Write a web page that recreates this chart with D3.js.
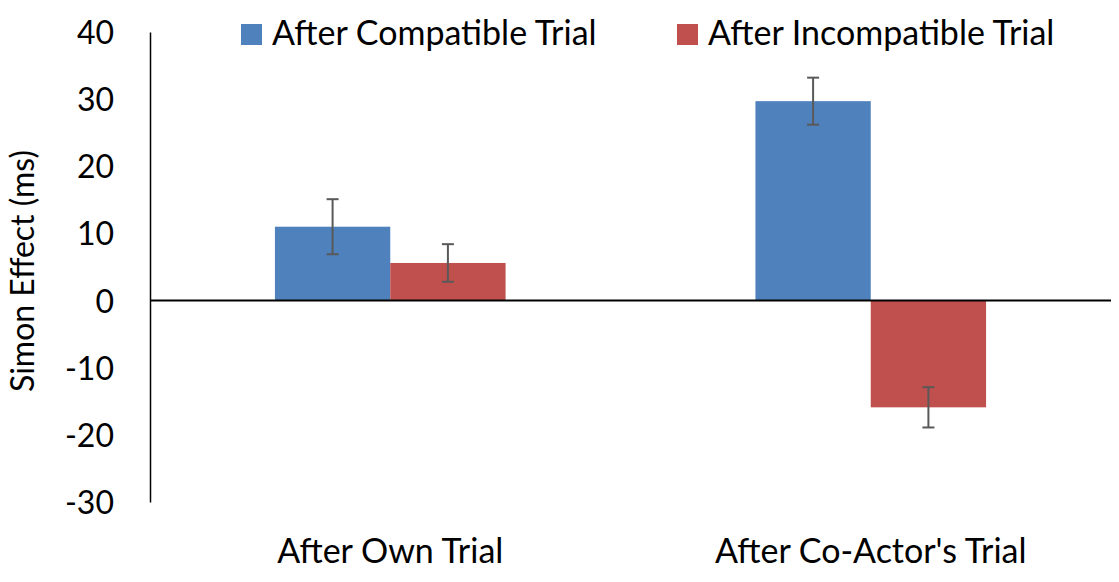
<!DOCTYPE html>
<html lang="en">
<head>
    <meta charset="UTF-8">
    <title>Simon Effect</title>
    <script src="https://d3js.org/d3.v7.min.js"></script>
    <style>
        body { margin: 0; background: #fff; }
        text {
            font-family: 'Lato', 'Open Sans', sans-serif;
            fill: #000;
        }
    </style>
</head>
<body>
<script>

    const width  = 1119;
    const height = 582;

    const categories = ["After Own Trial", "After Co-Actor's Trial"];
    const seriesNames = ["After Compatible Trial", "After Incompatible Trial"];
    const compatible = [11.0, 29.7];
    const incompatible = [5.6, -15.9];
    const compatibleErr = [4.1, 3.5];
    const incompatibleErr = [2.8, 3.0];
    const yTicks = [40, 30, 20, 10, 0, -10, -20, -30];
    const colors = ["#4F81BD", "#C0504D"];

    const data = categories.map((c, i) => ({
        cat: c,
        vals: [
            {key: seriesNames[0], v: compatible[i], e: compatibleErr[i]},
            {key: seriesNames[1], v: incompatible[i], e: incompatibleErr[i]}
        ]
    }));

    const plotLeft = 150, plotRight = 1111, plotTop = 32, plotBottom = 502;

    const y = d3.scaleLinear().domain([-30, 40]).range([plotBottom, plotTop]);
    const x0 = d3.scaleBand().domain(categories).range([plotLeft, plotRight])
            .paddingInner(0.52).paddingOuter(0.26);
    const x1 = d3.scaleBand().domain(seriesNames).range([0, x0.bandwidth()]);
    const color = d3.scaleOrdinal().domain(seriesNames).range(colors);

    const svg = d3.select("body")
            .append("svg")
            .attr("width", width)
            .attr("height", height);

    // y axis, no tick marks, plain hyphen for negatives
    const yAxis = d3.axisLeft(y)
            .tickValues(yTicks)
            .tickFormat(d => String(d))
            .tickSize(0)
            .tickPadding(36);
    const ga = svg.append("g")
            .attr("transform", "translate(" + plotLeft + ",0)")
            .call(yAxis);
    ga.attr("font-family", null).attr("font-size", null);
    ga.select(".domain").attr("stroke", "#000").attr("stroke-width", 1.5);
    ga.selectAll("text")
            .style("font-size", "32px")
            .attr("dy", "0.36em");

    svg.append("text")
            .attr("transform", "translate(34,271) rotate(-90)")
            .attr("text-anchor", "middle")
            .style("font-size", "32px")
            .text("Simon Effect (ms)");

    // bars
    const groups = svg.selectAll(".cat")
            .data(data)
            .enter()
            .append("g").attr("class", "cat")
            .attr("transform", d => "translate(" + x0(d.cat) + ",0)");

    groups.selectAll("rect")
            .data(d => d.vals)
            .enter()
            .append("rect")
            .attr("x", d => x1(d.key))
            .attr("width", x1.bandwidth())
            .attr("y", d => y(Math.max(0, d.v)))
            .attr("height", d => Math.abs(y(d.v) - y(0)))
            .attr("fill", d => color(d.key));

    // error bars
    const eb = groups.selectAll(".err")
            .data(d => d.vals)
            .enter()
            .append("g").attr("class", "err")
            .attr("stroke", "#595959")
            .attr("stroke-width", 2);
    const cx = d => x1(d.key) + x1.bandwidth() / 2;
    eb.append("line")
            .attr("x1", cx).attr("x2", cx)
            .attr("y1", d => y(d.v + d.e)).attr("y2", d => y(d.v - d.e));
    eb.append("line")
            .attr("x1", d => cx(d) - 6).attr("x2", d => cx(d) + 6)
            .attr("y1", d => y(d.v + d.e)).attr("y2", d => y(d.v + d.e));
    eb.append("line")
            .attr("x1", d => cx(d) - 6).attr("x2", d => cx(d) + 6)
            .attr("y1", d => y(d.v - d.e)).attr("y2", d => y(d.v - d.e));

    // zero line
    svg.append("line")
            .attr("x1", plotLeft).attr("x2", plotRight)
            .attr("y1", y(0)).attr("y2", y(0))
            .attr("stroke", "#000").attr("stroke-width", 2);

    // category labels
    svg.selectAll(".catlabel")
            .data(categories)
            .enter()
            .append("text").attr("class", "catlabel")
            .attr("x", d => x0(d) + x0.bandwidth() / 2)
            .attr("y", 563)
            .attr("text-anchor", "middle")
            .style("font-size", "34px")
            .text(d => d);

    // legend
    const legX = [241, 677];
    const leg = svg.selectAll(".leg")
            .data(seriesNames)
            .enter()
            .append("g").attr("class", "leg")
            .attr("transform", (d, i) => "translate(" + legX[i] + ",24)");
    leg.append("rect")
            .attr("width", 21).attr("height", 21)
            .attr("fill", d => color(d));
    leg.append("text")
            .attr("x", 31).attr("y", 21)
            .style("font-size", "34px")
            .text(d => d);

</script>
</body>
</html>
